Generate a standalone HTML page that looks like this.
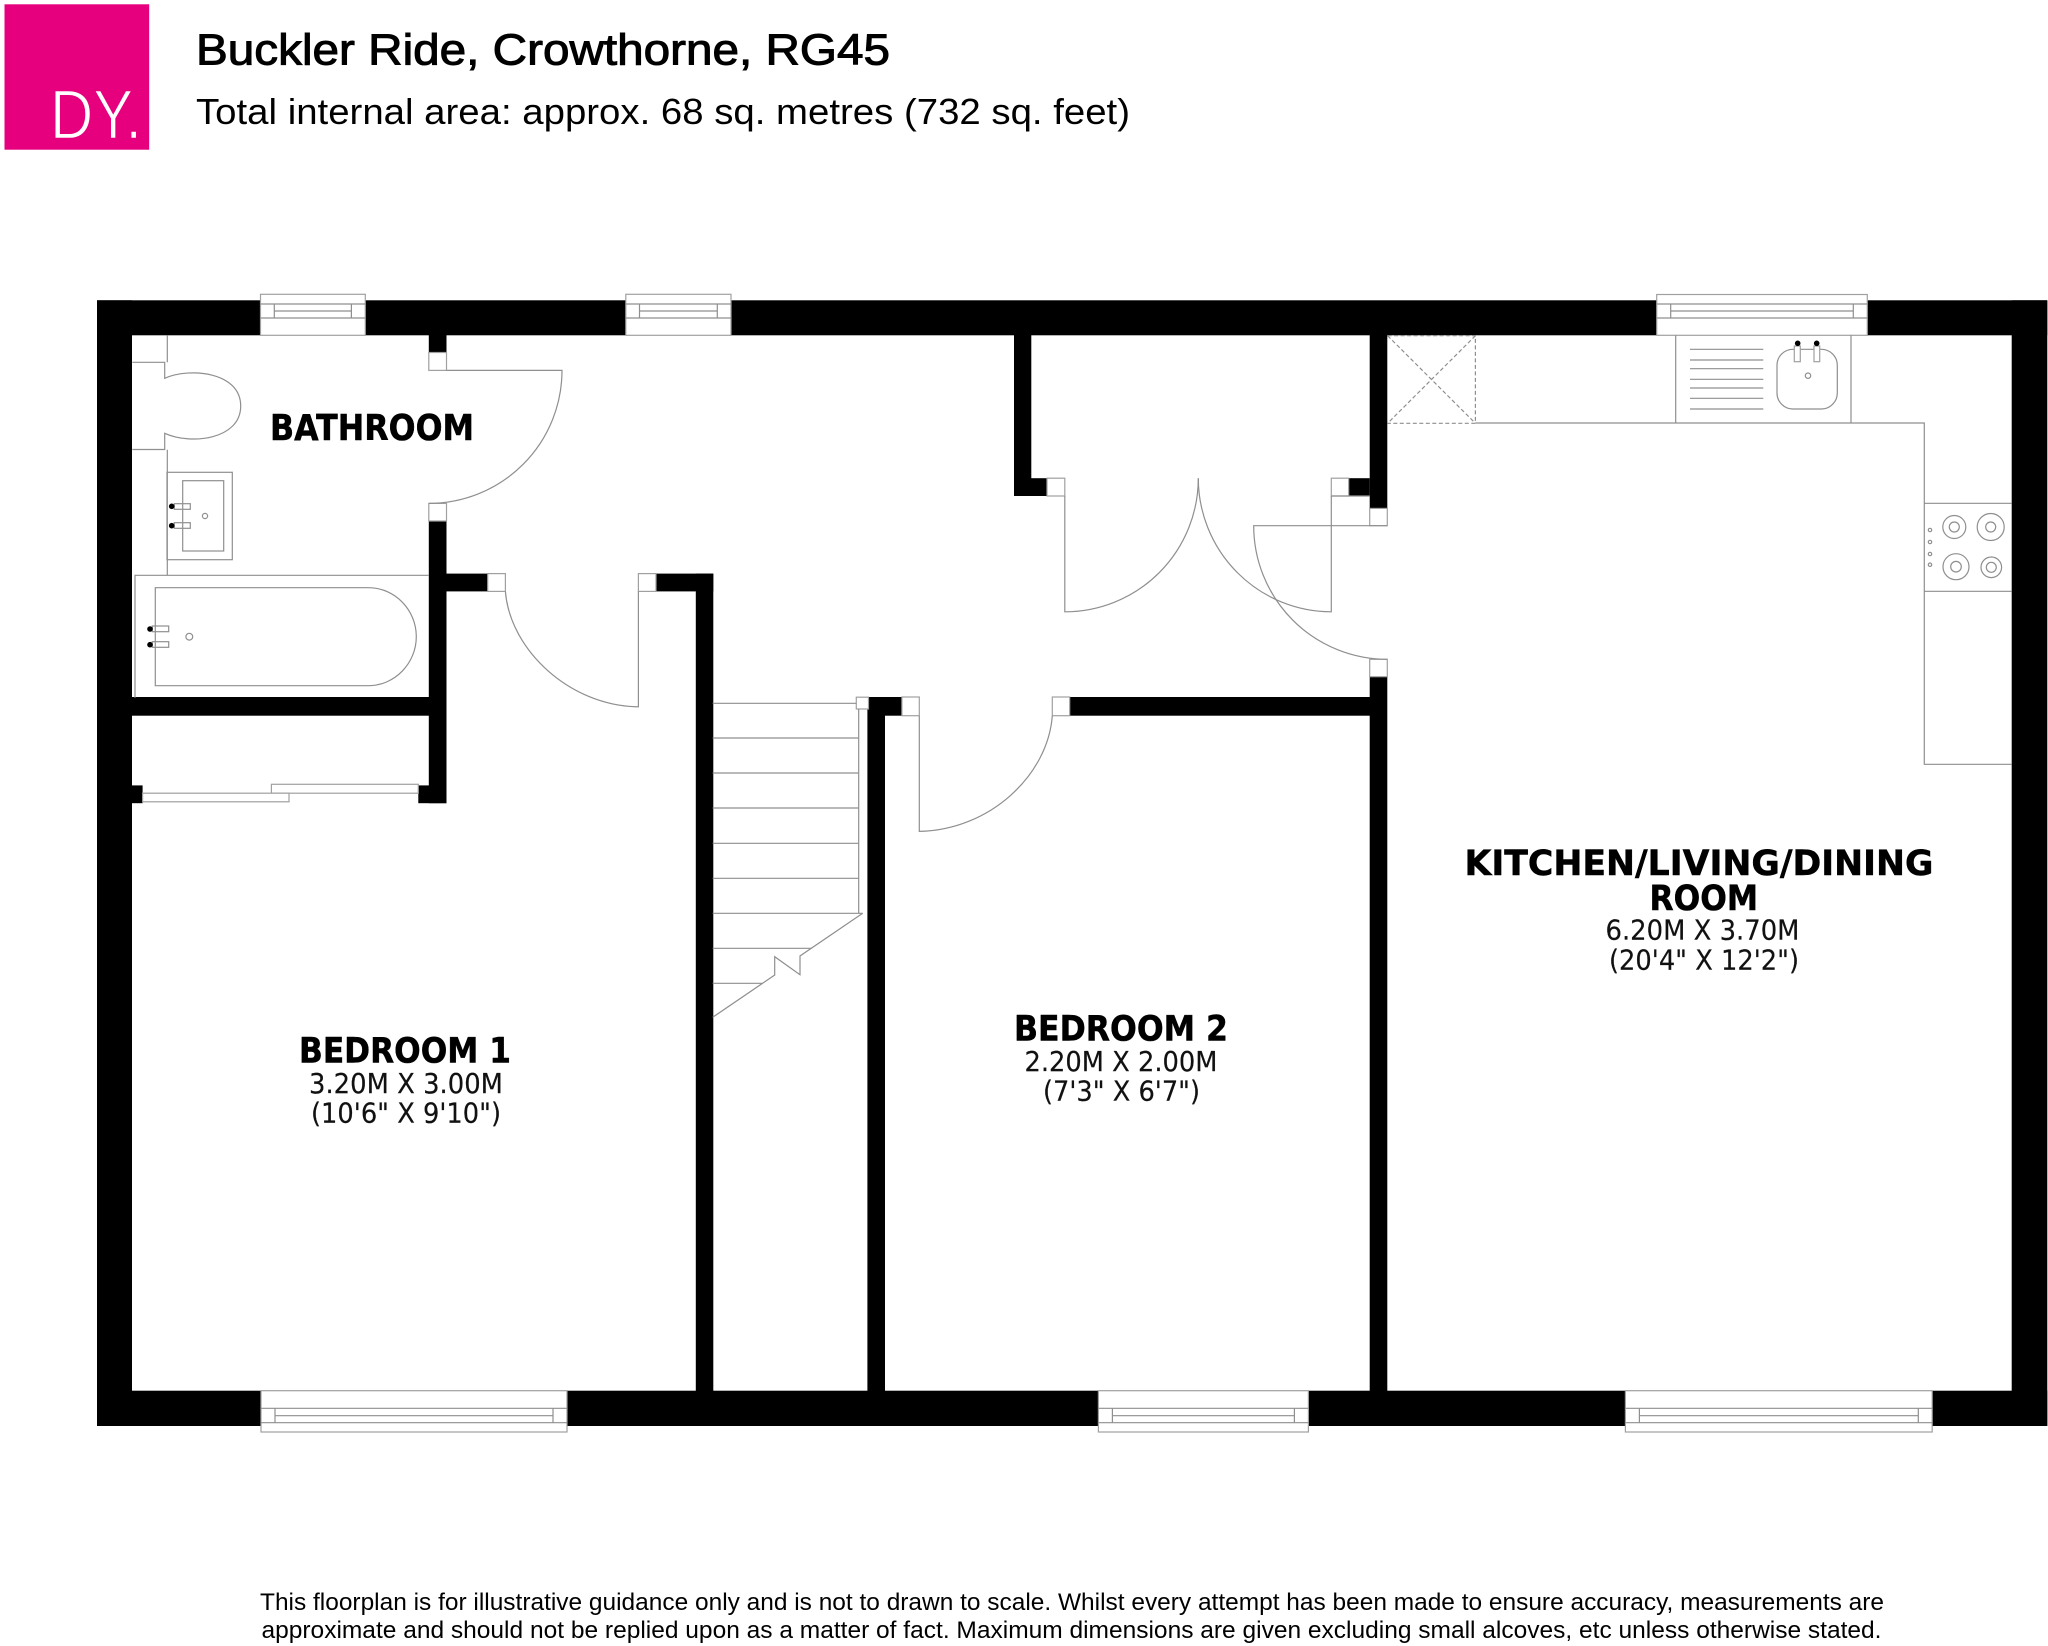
<!DOCTYPE html>
<html lang="en"><head><meta charset="utf-8"><title>Buckler Ride, Crowthorne, RG45</title>
<style>html,body{margin:0;padding:0;background:#fff}svg{display:block}
.l{fill:none;stroke:#8f8f8f;stroke-width:1.2}
.w{fill:#fff;stroke:#a0a0a0;stroke-width:1.2}
.h{font-family:"DejaVu Sans",sans-serif;font-weight:700;fill:#000;stroke:#000;stroke-width:.5}
.d{font-family:"DejaVu Sans",sans-serif;fill:#111;stroke:#111;stroke-width:.2}
.s{font-family:"Liberation Sans",sans-serif;fill:#000}
</style></head><body>
<svg xmlns="http://www.w3.org/2000/svg" width="2048" height="1646" viewBox="0 0 2048 1646">
<rect width="2048" height="1646" fill="#fff"/>
<!-- header -->
<rect x="4.5" y="4.3" width="144.7" height="145.4" fill="#e6007e"/>
<text x="50" y="138.5" font-size="70" textLength="92" lengthAdjust="spacingAndGlyphs" class="s" style="fill:#fff;stroke:#e6007e;stroke-width:1.4;paint-order:fill stroke">DY.</text>
<text x="196" y="64.5" font-size="44" textLength="694" lengthAdjust="spacingAndGlyphs" class="s" style="stroke:#000;stroke-width:1">Buckler Ride, Crowthorne, RG45</text>
<text x="196" y="124" font-size="36" textLength="934" lengthAdjust="spacingAndGlyphs" class="s">Total internal area: approx. 68 sq. metres (732 sq. feet)</text>
<!-- walls -->
<g fill="#000">
<rect x="97" y="300.3" width="1950.3" height="35"/>
<rect x="97" y="1390.7" width="1950.3" height="35.3"/>
<rect x="97" y="300.3" width="35" height="1125.7"/>
<rect x="2011.7" y="300.3" width="35.6" height="1125.7"/>
<rect x="428.8" y="335" width="17.7" height="17.5"/>
<rect x="428.8" y="521" width="17.7" height="282.2"/>
<rect x="446" y="573.6" width="41.7" height="17.8"/>
<rect x="656" y="573.6" width="57.3" height="17.8"/>
<rect x="695.8" y="573.6" width="17.5" height="830"/>
<rect x="132" y="697" width="297" height="18.7"/>
<rect x="132" y="785.4" width="10.6" height="17.8"/>
<rect x="418.3" y="785.4" width="28" height="17.8"/>
<rect x="1014" y="335" width="17.3" height="161"/>
<rect x="1014" y="478.2" width="33" height="17.8"/>
<rect x="1348.7" y="478.2" width="21" height="17.8"/>
<rect x="1369.7" y="335" width="17.6" height="173.3"/>
<rect x="1369.7" y="676.7" width="17.6" height="720"/>
<rect x="1069.7" y="697" width="300.5" height="18.7"/>
<rect x="868.4" y="697" width="33.5" height="18.7"/>
<rect x="867.4" y="697" width="17.6" height="700"/>
</g>
<!-- windows -->
<g>
<rect class="w" x="260.5" y="294.3" width="104.8" height="41"/><path class="l" d="M260.5 304H365.3M260.5 318H365.3M274.3 304V318M351.4 304V318M274.3 311H351.4"/>
<rect class="w" x="625.8" y="294.3" width="105.2" height="41"/><path class="l" d="M625.8 304H731M625.8 318H731M639.5 304V318M717.3 304V318M639.5 311H717.3"/>
<rect class="w" x="1656.7" y="294.5" width="210.6" height="40.8"/><path class="l" d="M1656.7 304H1867.3M1656.7 318H1867.3M1670.7 304V318M1853.3 304V318M1670.7 311H1853.3"/>
<rect class="w" x="261" y="1390.7" width="306" height="41.3"/><path class="l" d="M261 1408.3H567M261 1422.7H567M275 1408.3V1422.7M553 1408.3V1422.7M275 1415.7H553"/>
<rect class="w" x="1098.4" y="1390.7" width="210" height="41.3"/><path class="l" d="M1098.4 1408.3H1308.4M1098.4 1422.7H1308.4M1112.4 1408.3V1422.7M1294.4 1408.3V1422.7M1112.4 1415.7H1294.4"/>
<rect class="w" x="1625.4" y="1390.7" width="306.8" height="41.3"/><path class="l" d="M1625.4 1408.3H1932.2M1625.4 1422.7H1932.2M1639.4 1408.3V1422.7M1918.3 1408.3V1422.7M1639.4 1415.7H1918.3"/>
</g>
<!-- door jamb boxes -->
<g>
<rect class="w" x="428.8" y="352.5" width="17.7" height="17.9"/>
<rect class="w" x="428.8" y="503.4" width="17.7" height="17.6"/>
<rect class="w" x="487.7" y="573.6" width="17.7" height="17.8"/>
<rect class="w" x="638.4" y="573.6" width="17.6" height="17.8"/>
<rect class="w" x="1047" y="478.2" width="17.8" height="17.8"/>
<rect class="w" x="1331.3" y="478.2" width="17.4" height="17.8"/>
<rect class="w" x="1369.7" y="508.4" width="17.6" height="17.3"/>
<rect class="w" x="1369.7" y="659.3" width="17.6" height="17.4"/>
<rect class="w" x="1052.3" y="697" width="17.4" height="18.7"/>
<rect class="w" x="901.9" y="697" width="17.4" height="18.7"/>
<rect class="w" x="856.3" y="697.2" width="12.2" height="11.8"/>
</g>
<!-- doors -->
<g class="l">
<path d="M446.5 370.4H562A133.2 133 0 0 1 428.8 503.4"/>
<path d="M505.4 591.4C510 650 570 706 638.4 706.8V591.4"/>
<path d="M1064.8 496V611.8A133.5 133.6 0 0 0 1198.3 478.2"/>
<path d="M1331.3 496V611.8A133.5 133.6 0 0 1 1198.3 478.2"/>
<path d="M1331.3 496H1369.7"/>
<path d="M1387.3 525.7H1253.7A133.6 133.6 0 0 0 1387.3 659.3"/>
<path d="M1052.3 715.7C1048 775 990 830 919.3 831.4V715.7"/>
</g>
<!-- wardrobe sliding -->
<rect class="w" x="271.4" y="784.3" width="146.9" height="8.9"/>
<rect class="w" x="142.6" y="793.2" width="146.4" height="8.6"/>
<!-- WC -->
<g class="l">
<path d="M167.3 335.3V362.3M132.3 362.3H164.7V378.3C190 367 240.7 372 240.7 406C240.7 440 190 445 164.7 433.3V449.5H132.3"/>
<path d="M167.3 449.7V575.3"/>
<rect x="167" y="472.3" width="65.3" height="87.4"/>
<rect x="182.7" y="480.7" width="41" height="70.3"/>
<rect x="174.3" y="503.7" width="16" height="5.6"/>
<rect x="174.3" y="522.7" width="16" height="5.6"/>
<circle cx="205" cy="516" r="2.6"/>
<path d="M135 697.7V575.3H429"/>
<path d="M155.3 587.7H368.3C395 587.7 416.3 610 416.3 636.7C416.3 663 395 685.7 368.3 685.7H155.3Z"/>
<rect x="152.3" y="626" width="16.4" height="5.7"/>
<rect x="152.3" y="641.7" width="16.4" height="5.6"/>
<circle cx="189.3" cy="636.7" r="3.4"/>
</g>
<g fill="#000"><circle cx="171.7" cy="506.3" r="2.8"/><circle cx="171.7" cy="525.7" r="2.8"/><circle cx="150" cy="629" r="2.8"/><circle cx="150" cy="644.7" r="2.8"/></g>
<!-- stairs -->
<g class="l">
<path d="M712.7 703.3H856.3M712.7 738H858.7M712.7 773H858.7M712.7 808H858.7M712.7 843.3H858.7M712.7 878.3H858.7M712.7 913.3H862.7M712.7 948.3H811.7M712.7 983.3H762.3"/>
<path d="M858.7 709V913.3"/>
<path d="M862.7 913.3L800 956V974.7L774.7 956.7V975L712.7 1017.3"/>
</g>
<!-- kitchen units -->
<g class="l">
<path d="M1475.4 423H1924.3V764.3H2011.7M1924.3 503.3H2011.7M1924.3 591.3H2011.7"/>
<path d="M1675.7 335.3V423M1851 335.3V423"/>
<path d="M1690 349.3H1763.3M1690 360H1763.3M1690 368.7H1763.3M1690 379.3H1763.3M1690 388H1763.3M1690 398.3H1763.3M1690 409H1763.3"/>
<rect x="1777" y="349.3" width="60.3" height="59.7" rx="16" ry="16"/>
<circle cx="1808" cy="375.7" r="2.7"/>
<circle cx="1954.3" cy="527" r="11.5"/><circle cx="1954.3" cy="527" r="5"/>
<circle cx="1990.7" cy="527" r="13.5"/><circle cx="1990.7" cy="527" r="5"/>
<circle cx="1956" cy="566.7" r="13"/><circle cx="1956" cy="566.7" r="5.3"/>
<circle cx="1991.3" cy="567.3" r="10.3"/><circle cx="1991.3" cy="567.3" r="5"/>
<circle cx="1930" cy="530" r="1.7"/><circle cx="1930" cy="542" r="1.7"/><circle cx="1930" cy="554" r="1.7"/><circle cx="1930" cy="564.7" r="1.7"/>
<path d="M1387.6 335.7H1475.4V423.3H1387.6M1387.6 335.7L1475.4 423.3M1475.4 335.7L1387.6 423.3" stroke-dasharray="4 2.5"/>
</g>
<rect class="w" x="1794.3" y="346" width="6" height="15.7"/><rect class="w" x="1814" y="346" width="5.7" height="15.7"/>
<g fill="#000"><circle cx="1797.7" cy="343.3" r="2.8"/><circle cx="1816.7" cy="343.3" r="2.8"/></g>
<!-- labels -->
<text class="h" x="270" y="440" font-size="35.5" textLength="204" lengthAdjust="spacingAndGlyphs">BATHROOM</text>
<text class="h" x="299" y="1062.5" font-size="35" textLength="212" lengthAdjust="spacingAndGlyphs">BEDROOM 1</text>
<text class="d" x="309" y="1093" font-size="28" textLength="194" lengthAdjust="spacingAndGlyphs">3.20M X 3.00M</text>
<text class="d" x="311" y="1122.3" font-size="28" textLength="190" lengthAdjust="spacingAndGlyphs">(10'6" X 9'10")</text>
<text class="h" x="1014" y="1040.7" font-size="35" textLength="214" lengthAdjust="spacingAndGlyphs">BEDROOM 2</text>
<text class="d" x="1024.5" y="1071.2" font-size="28" textLength="193" lengthAdjust="spacingAndGlyphs">2.20M X 2.00M</text>
<text class="d" x="1043" y="1100.7" font-size="28" textLength="157" lengthAdjust="spacingAndGlyphs">(7'3" X 6'7")</text>
<text class="h" x="1464.5" y="875" font-size="35" textLength="469" lengthAdjust="spacingAndGlyphs">KITCHEN/LIVING/DINING</text>
<text class="h" x="1649.5" y="910" font-size="35" textLength="108.5" lengthAdjust="spacingAndGlyphs">ROOM</text>
<text class="d" x="1605.5" y="939.5" font-size="28" textLength="194" lengthAdjust="spacingAndGlyphs">6.20M X 3.70M</text>
<text class="d" x="1609" y="969.3" font-size="28" textLength="190" lengthAdjust="spacingAndGlyphs">(20'4" X 12'2")</text>
<!-- footer -->
<text class="s" x="260" y="1610" font-size="24.5" textLength="1624" lengthAdjust="spacingAndGlyphs">This floorplan is for illustrative guidance only and is not to drawn to scale. Whilst every attempt has been made to ensure accuracy, measurements are</text>
<text class="s" x="261.5" y="1638" font-size="24.5" textLength="1620" lengthAdjust="spacingAndGlyphs">approximate and should not be replied upon as a matter of fact. Maximum dimensions are given excluding small alcoves, etc unless otherwise stated.</text>
</svg>
</body></html>
